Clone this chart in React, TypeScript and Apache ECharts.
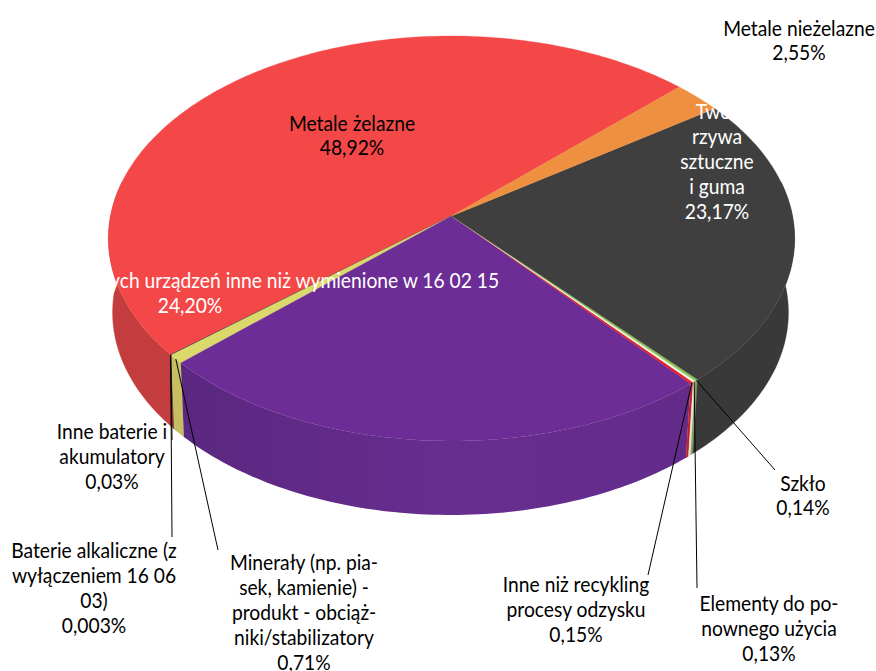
import React, { useEffect, useRef } from "react";
import * as echarts from "echarts";

const categories = [
  "Metale żelazne",
  "Baterie alkaliczne (z\nwyłączeniem 16 06\n03)",
  "Inne baterie i\nakumulatory",
  "Minerały (np. pia-\nsek, kamienie) -\nprodukt - obciąż-\nniki/stabilizatory",
  "Elementy usunięte ze zużytych urządzeń inne niż wymienione w 16 02 15",
  "Inne niż recykling\nprocesy odzysku",
  "Elementy do po-\nnownego użycia",
  "Szkło",
  "Two-\nrzywa\nsztuczne\ni guma",
  "Metale nieżelazne",
];
const values = [48.92, 0.003, 0.03, 0.71, 24.2, 0.15, 0.13, 0.14, 23.17, 2.55];
const percentLabels = ["48,92%", "0,003%", "0,03%", "0,71%", "24,20%", "0,15%", "0,13%", "0,14%", "23,17%", "2,55%"];

const topColors = ["#F44848", "#555555", "#444444", "#DCD96C", "#6C2D96", "#E2202C", "#F2F2EA", "#8CC850", "#3F3F3F", "#EF9041"];
const sideColors = ["#C33C3E", "#4A4A4A", "#3A3A3A", "#C6BE60", "#622B8A", "#C01E28", "#E4E4DC", "#7FA055", "#393939", "#C87A36"];

// projection of the tilted disc
const APEX_X = 451.5, APEX_Y = 216, R = 341, K = 200, P = 0.111, DEPTH = 74, START = 44.0;
const LOWER_SCALE = 0.985, LOWER_SHIFT = -1;
const project = (deg: number, lower = false): number[] => {
  const t = (deg * Math.PI) / 180;
  const w = 1 + P * Math.sin(t);
  const x = (R * Math.cos(t)) / w;
  const y = APEX_Y - (K * Math.sin(t)) / w;
  return lower ? [APEX_X + x * LOWER_SCALE + LOWER_SHIFT, y + DEPTH] : [APEX_X + x, y];
};

const total = values.reduce((a, b) => a + b, 0);
let cursor = START;
const rows = values.map((v, i) => {
  const a = cursor;
  cursor += (v / total) * 360;
  return [a, cursor, i];
});

// label placement: [centre x, centre y of block, text colour, leader end x, leader end y]
const layout: (number | string | null)[][] = [
  [352, 134.5, "#000000", null, null],
  [94, 587, "#000000", 172, 537],
  [112, 455.5, "#000000", 172, 440],
  [304, 611.5, "#000000", 218, 550],
  [190, 292, "#FFFFFF", null, null],
  [576, 608.5, "#000000", 648, 575],
  [769, 627.5, "#000000", 697, 588],
  [803, 494.5, "#000000", 775, 470],
  [717, 160.5, "#FFFFFF", null, null],
  [799, 39.5, "#000000", null, null],
];

const FONT = "Lato";
const FONT_SIZE = 22;
const TEXT_SCALE = 0.875;
const LINE_HEIGHT = 24.8;

const renderTop = (params: any, api: any) => {
  const a = api.value(0), b = api.value(1), i = api.value(2);
  const pts: number[][] = [[APEX_X, APEX_Y]];
  const n = Math.max(2, Math.ceil(b - a));
  for (let k = 0; k <= n; k++) pts.push(project(a + ((b - a) * k) / n));
  return {
    type: "polygon",
    shape: { points: pts },
    style: { fill: topColors[i], stroke: topColors[i], lineWidth: 0.3 },
  };
};

const renderSide = (params: any, api: any) => {
  const lo = 170, hi = 370;
  const a = Math.max(api.value(0), lo), b = Math.min(api.value(1), hi), i = api.value(2);
  if (b <= a) return null;
  const n = Math.max(2, Math.ceil(b - a));
  const up: number[][] = [], down: number[][] = [];
  for (let k = 0; k <= n; k++) {
    const d = a + ((b - a) * k) / n;
    up.push(project(d));
    down.push(project(d, true));
  }
  const fill =
    i === 4
      ? new echarts.graphic.LinearGradient(0, 0, 1, 0, [
          { offset: 0, color: "#5A2880" },
          { offset: 0.55, color: "#682D90" },
          { offset: 1, color: "#622B8A" },
        ])
      : sideColors[i];
  return {
    type: "polygon",
    shape: { points: up.concat(down.reverse()) },
    style: { fill, stroke: i === 4 ? undefined : sideColors[i], lineWidth: 0.3 },
  };
};

export default function App() {
  const ref = useRef<HTMLDivElement>(null);
  useEffect(() => {
    const chart = echarts.init(ref.current!, null, { renderer: "svg" });
    const graphic: any[] = [];
    categories.forEach((name, i) => {
      const [cx, cy, color, lx, ly] = layout[i] as any[];
      if (lx !== null) {
        const mid = (rows[i][0] + rows[i][1]) / 2;
        const [sx, sy] = project(mid);
        graphic.push({
          type: "line",
          z: 10,
          shape: { x1: sx, y1: sy, x2: lx, y2: ly },
          style: { stroke: "#000000", lineWidth: 1 },
        });
      }
      graphic.push({
        type: "text",
        z: 11,
        x: cx,
        y: cy,
        scaleX: TEXT_SCALE,
        style: {
          text: name + "\n" + percentLabels[i],
          fill: color,
          font: `${FONT_SIZE}px ${FONT}`,
          lineHeight: LINE_HEIGHT,
          align: "center",
          verticalAlign: "middle",
        },
      });
    });
    chart.setOption({
      animation: false,
      backgroundColor: "#FFFFFF",
      graphic,
      series: [
        { type: "custom", coordinateSystem: "none", z: 1, silent: true, renderItem: renderSide, data: rows },
        { type: "custom", coordinateSystem: "none", z: 2, silent: true, renderItem: renderTop, data: rows },
      ],
    });
    return () => chart.dispose();
  }, []);
  return <div ref={ref} style={{ position: "fixed", left: 0, top: 0, width: 876, height: 671 }} />;
}
